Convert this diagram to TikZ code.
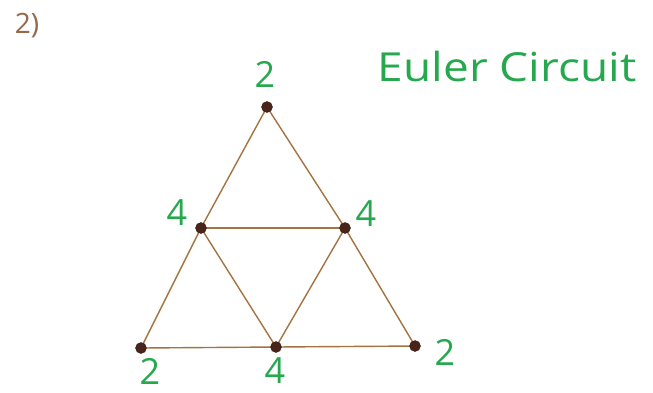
\documentclass[tikz,border=0pt]{standalone}
\usepackage{fontspec}
\setmainfont{Open Sans}
\usetikzlibrary{positioning}
\definecolor{inkgreen}{RGB}{38,168,78}
\definecolor{edgebrown}{RGB}{165,115,65}
\definecolor{dotbrown}{RGB}{72,36,26}
\definecolor{numbrown}{RGB}{150,105,75}
\tikzset{
  vtx/.style = {
    circle, fill=dotbrown, draw=dotbrown!80!black,
    minimum size = 11pt, inner sep=0pt, outer sep=0pt
  },
  edg/.style = {line width=1.4pt, edgebrown, line cap=round},
  deg/.style = {text=inkgreen, font=\fontsize{36}{36}\selectfont, inner sep=0pt},
  ttl/.style = {text=inkgreen, font=\fontsize{40}{40}\selectfont, inner sep=0pt, xscale=1.15}
}
\begin{document}
\begin{tikzpicture}[x=1pt, y=-1pt]
  \useasboundingbox (0,0) rectangle (653,392);
  \fill[white] (0,0) rectangle (653,392);

  %% Edges
  \coordinate (t)  at (267,107);
  \coordinate (ml) at (201,228);
  \coordinate (mr) at (345,228);
  \coordinate (bl) at (141,348);
  \coordinate (bm) at (276,347);
  \coordinate (br) at (415,346);
  \draw[edg] (t) -- (ml);
  \draw[edg] (t) -- (mr);
  \draw[edg] (ml) -- (mr);
  \draw[edg] (ml) -- (bl);
  \draw[edg] (ml) -- (bm);
  \draw[edg] (mr) -- (bm);
  \draw[edg] (mr) -- (br);
  \draw[edg] (bl) -- (bm);
  \draw[edg] (bm) -- (br);

  %% Vertices
  \node[vtx] (vt)  at (t)  {};
  \node[vtx] (vml) at (ml) {};
  \node[vtx] (vmr) at (mr) {};
  \node[vtx] (vbl) at (bl) {};
  \node[vtx] (vbm) at (bm) {};
  \node[vtx] (vbr) at (br) {};

  %% Degrees
  \node[deg] (dt)  at (265,74)  {2};
  \node[deg] (dml) at (177,213) {4};
  \node[deg] (dmr) at (366,214) {4};
  \node[deg] (dbl) at (150,371) {2};
  \node[deg] (dbm) at (275,371) {4};
  \node[deg] (dbr) at (445,352) {2};

  %% Title and number
  \node[ttl] (title) at (507,66) {Euler Circuit};
  \node[text=numbrown, font=\fontsize{28}{28}\selectfont, inner sep=0pt] (num) at (27,26) {2)};
\end{tikzpicture}
\end{document}
